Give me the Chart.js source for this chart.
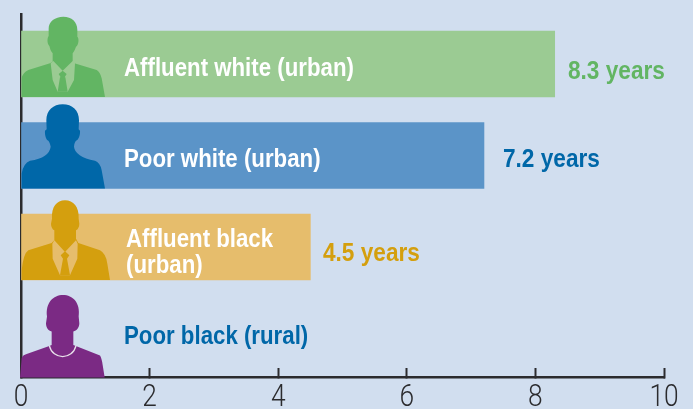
<!DOCTYPE html>
<html>
<head>
<meta charset="utf-8">
<style>
  html, body { margin: 0; padding: 0; background: #d1deef; }
  #wrap { width: 693px; height: 409px; }
</style>
<script src="https://cdn.jsdelivr.net/npm/chart.js@4"></script>
</head>
<body>
<div id="wrap"><canvas id="chart"></canvas></div>
<script>
const categories = ['Affluent white (urban)', 'Poor white (urban)', 'Affluent black\n(urban)', 'Poor black (rural)'];
const years = [8.3, 7.2, 4.5, null];
const valueLabels = ['8.3 years', '7.2 years', '4.5 years', ''];
const xTicks = [0, 2, 4, 6, 8, 10];

const barColors = ['#9bcb93', '#5b94c8', '#e6bd6c', 'rgba(0,0,0,0)'];
const darkColors = ['#62b563', '#0067a8', '#d49f0e', '#7b2a84'];
const nameColors = ['#ffffff', '#ffffff', '#ffffff', '#0067a8'];
const axisColor = '#2b2b2e';
const textFont = 'bold 25px "Liberation Sans", sans-serif';
const tickFont = '300 31px Roboto, sans-serif';

// silhouettes, x from the axis and y up from the bar bottom (3x units)
const bodies = [
  'M5 0 L5 -56 Q8 -73 25 -81 L90 -101 L98 -106 L98 -131 C90 -141 90 -149 88 -153 C80 -161 82 -179 86 -183 L86 -206 C86 -226 105 -241 130 -241 C155 -241 172 -226 172 -201 L172 -181 C178 -176 176 -156 168 -151 C165 -143 162 -136 158 -131 L158 -103 L230 -81 Q240 -76 245 -56 L255 0 Z',
  'M5 0 L5 -45 Q10 -75 30 -83 Q88 -92 92 -125 C90 -135 88 -140 85 -143 C78 -146 74 -160 75 -173 L80 -178 L79 -205 C79 -235 100 -253 128 -253 C157 -253 177 -235 177 -205 L176 -178 L180 -173 C181 -160 176 -146 168 -143 C165 -140 163 -135 162 -125 Q165 -95 225 -83 Q240 -78 245 -55 L255 0 Z',
  'M5 0 L5 -29 Q10 -79 25 -89 L95 -111 L103 -119 L103 -149 C97 -152 93 -160 93 -169 L96 -184 C94 -220 110 -239 135 -239 C160 -239 178 -220 176 -184 L178 -169 C178 -160 174 -152 168 -149 L168 -124 L175 -111 L240 -89 Q258 -79 262 -49 L270 0 Z',
  'M0 0 L5 -58 Q8 -68 20 -71 L88 -95 L95 -98 L95 -138 C85 -141 78 -150 78 -163 L81 -183 C76 -225 100 -248 129 -248 C158 -248 182 -225 176 -183 L178 -163 C178 -150 170 -141 160 -138 L160 -98 L240 -66 Q245 -58 248 -38 L254 0 Z'
];
const shirts = [
  'M92 -101 L100 -108 L128 -79 L158 -108 L165 -101 L162 -51 L143 -16 L113 -16 L98 -51 Z',
  '',
  'M97 -109 L103 -119 L135 -84 L168 -119 L173 -109 L172 -64 L150 -14 L120 -14 L98 -64 Z',
  ''
];
const ties = [
  'M116 -69 L128 -79 L140 -69 L134 -59 L136 -59 L143 -16 L113 -16 L120 -59 L122 -59 Z',
  '',
  'M122 -74 L135 -86 L148 -74 L141 -64 L150 -14 L120 -14 L129 -64 Z',
  ''
];
const necklace = 'M88 -96 C98 -52 158 -52 168 -96';
const iconDrop = [0, 0, 0, 6];

const nameX = [124, 124, 126, 124];
const nameDy = [5, 5, 6, -1];
const valueX = [568, 503, 323, 0];
const valueDy = [8, 5, 7, 0];
const nameSqueeze = 0.89;
const valueSqueeze = 0.905;
const tickSqueeze = 0.85;

function squeezedText(ctx, text, x, y, squeeze) {
  ctx.save();
  ctx.translate(x, y);
  ctx.scale(squeeze, 1);
  ctx.fillText(text, 0, 0);
  ctx.restore();
}

const drawExtras = {
  id: 'drawExtras',
  afterDatasetsDraw(chart) {
    const ctx = chart.ctx;
    const xScale = chart.scales.x;
    const yScale = chart.scales.y;
    categories.forEach((name, i) => {
      const barBottom = yScale.getPixelForValue(i) + 33;

      // person on top of the bar
      ctx.save();
      ctx.translate(xScale.getPixelForValue(0) - 1, barBottom + iconDrop[i]);
      ctx.scale(1 / 3, 1 / 3);
      ctx.fillStyle = darkColors[i];
      ctx.fill(new Path2D(bodies[i]));
      if (shirts[i]) {
        ctx.fillStyle = barColors[i];
        ctx.fill(new Path2D(shirts[i]));
        ctx.fillStyle = darkColors[i];
        ctx.fill(new Path2D(ties[i]));
      }
      if (i === 3) {
        ctx.strokeStyle = '#e8e0ea';
        ctx.lineWidth = 4;
        ctx.stroke(new Path2D(necklace));
      }
      ctx.restore();

      // names and values
      ctx.save();
      ctx.font = textFont;
      ctx.textBaseline = 'middle';
      ctx.fillStyle = nameColors[i];
      const lines = name.split('\n');
      const centre = yScale.getPixelForValue(i) + nameDy[i];
      lines.forEach((line, k) => {
        squeezedText(ctx, line, nameX[i], centre + (k - (lines.length - 1) / 2) * 26, nameSqueeze);
      });
      if (valueLabels[i]) {
        ctx.fillStyle = darkColors[i];
        squeezedText(ctx, valueLabels[i], valueX[i], yScale.getPixelForValue(i) + valueDy[i], valueSqueeze);
      }
      ctx.restore();
    });

    // tick labels, narrower than the installed fonts
    ctx.save();
    ctx.font = tickFont;
    ctx.fillStyle = axisColor;
    ctx.textAlign = 'center';
    ctx.textBaseline = 'alphabetic';
    xScale.ticks.forEach(t => {
      squeezedText(ctx, String(t.value), xScale.getPixelForValue(t.value), 406, tickSqueeze);
    });
    ctx.restore();
  }
};

new Chart(document.getElementById('chart'), {
  type: 'bar',
  data: {
    datasets: [{
      data: years.map((v, i) => ({ x: v, y: i })),
      backgroundColor: barColors,
      barThickness: 66,
      borderWidth: 0
    }]
  },
  options: {
    indexAxis: 'y',
    responsive: true,
    maintainAspectRatio: false,
    animation: false,
    layout: { padding: { left: 19, right: 29, top: 14, bottom: 0 } },
    plugins: { legend: { display: false }, tooltip: { enabled: false } },
    scales: {
      x: {
        type: 'linear',
        min: 0,
        max: 10,
        afterBuildTicks(axis) { axis.ticks = xTicks.map(v => ({ value: v })); },
        afterFit(axis) { axis.height = 32; },
        grid: { drawOnChartArea: false, tickLength: -9, tickWidth: 2, tickColor: axisColor },
        border: { color: axisColor, width: 2.5 },
        ticks: { display: false }
      },
      y: {
        type: 'linear',
        reverse: true,
        offset: false,
        min: -0.546,
        max: 3.42,
        afterFit(axis) { axis.width = 2; },
        grid: { display: false, offset: false },
        border: { color: axisColor, width: 2.5 },
        ticks: { display: false }
      }
    }
  },
  plugins: [drawExtras]
});
</script>
</body>
</html>
